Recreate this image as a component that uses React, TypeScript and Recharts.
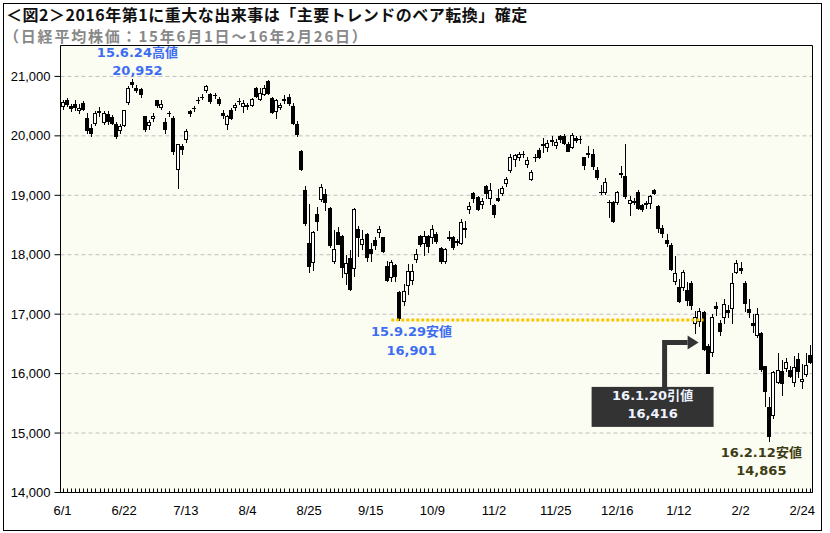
import { ComposedChart, Bar, XAxis, YAxis, CartesianGrid, ReferenceLine, ReferenceArea, ReferenceDot } from 'recharts';

// 日経平均 日足 2015/6/1 ~ 2016/2/26
const dates = [
  '6/1','6/2','6/3','6/4','6/5','6/8','6/9','6/10','6/11','6/12','6/15','6/16','6/17','6/18','6/19','6/22','6/23','6/24','6/25','6/26','6/29','6/30',
  '7/1','7/2','7/3','7/6','7/7','7/8','7/9','7/10','7/13','7/14','7/15','7/16','7/17','7/21','7/22','7/23','7/24','7/27','7/28','7/29','7/30','7/31',
  '8/3','8/4','8/5','8/6','8/7','8/10','8/11','8/12','8/13','8/14','8/17','8/18','8/19','8/20','8/21','8/24','8/25','8/26','8/27','8/28','8/31',
  '9/1','9/2','9/3','9/4','9/7','9/8','9/9','9/10','9/11','9/14','9/15','9/16','9/17','9/18','9/24','9/25','9/28','9/29','9/30',
  '10/1','10/2','10/5','10/6','10/7','10/8','10/9','10/13','10/14','10/15','10/16','10/19','10/20','10/21','10/22','10/23','10/26','10/27','10/28','10/29','10/30',
  '11/2','11/4','11/5','11/6','11/9','11/10','11/11','11/12','11/13','11/16','11/17','11/18','11/19','11/20','11/24','11/25','11/26','11/27','11/30',
  '12/1','12/2','12/3','12/4','12/7','12/8','12/9','12/10','12/11','12/14','12/15','12/16','12/17','12/18','12/21','12/22','12/24','12/25','12/28','12/29','12/30',
  '1/4','1/5','1/6','1/7','1/8','1/12','1/13','1/14','1/15','1/18','1/19','1/20','1/21','1/22','1/25','1/26','1/27','1/28','1/29',
  '2/1','2/2','2/3','2/4','2/5','2/8','2/9','2/10','2/12','2/15','2/16','2/17','2/18','2/19','2/22','2/23','2/24','2/25','2/26',
];

const opens = [
  20500,20600,20500,20540,20430,20550,20300,20140,20210,20420,
  20240,20370,20320,20200,20100,20190,20570,20900,20800,20790,
  20330,20180,20300,20600,20480,20230,20380,20300,19440,19830,
  19945,20420,20470,20610,20660,20770,20700,20690,20620,20390,
  20200,20440,20480,20590,20510,20500,20515,20800,20620,20700,
  20930,20640,20410,20490,20600,20660,20500,20200,19740,19090,
  18200,17880,18690,18930,19025,18780,17890,18375,18320,17700,
  17950,17770,18430,18180,18350,18100,18250,18375,18290,17810,
  17630,17830,17380,17215,17490,17570,17925,18320,18190,18320,
  18290,18345,18110,17900,18280,18300,18230,18195,18450,18765,
  19045,18965,18855,19160,18950,18840,18960,19045,19210,19430,
  19610,19640,19690,19520,19270,19640,19770,19840,19820,19910,
  19845,20000,20000,19870,19820,19960,19950,19640,19710,19700,
  19420,19060,19050,18890,18895,18880,19380,19330,18870,18900,
  19050,18830,18860,18865,19090,18820,18450,18250,18165,17560,
  17460,17460,17400,17530,16850,16880,17040,16460,16360,17130,
  16850,16950,17070,17100,17710,17780,17520,17080,16850,16650,
  16680,16120,15440,15300,15865,16050,16100,16055,15860,16240,
  15870,15990,16315,
];

const highs = [
  20600,20640,20530,20600,20530,20580,20380,20200,20420,20480,
  20420,20420,20350,20240,20200,20440,20840,20952,20850,20800,
  20340,20260,20380,20610,20600,20300,20420,20340,19870,19870,
  20110,20440,20500,20650,20700,20860,20720,20720,20650,20440,
  20350,20470,20560,20640,20600,20560,20640,20830,20810,20850,
  20946,20660,20620,20560,20680,20700,20560,20250,19760,19150,
  18850,18400,18800,19190,19100,18800,18415,18460,18330,18000,
  18080,18790,18480,18420,18370,18200,18300,18480,18300,17900,
  17910,17850,17390,17500,17850,17850,18100,18330,18400,18340,
  18500,18380,18130,18120,18400,18320,18260,18600,18560,18880,
  19060,18980,18950,19170,19200,18860,19100,19150,19300,19700,
  19700,19720,19740,19640,19420,19700,19790,19960,19930,19990,
  19950,20010,20030,19900,20040,20000,19990,19650,19830,19780,
  19470,19170,19290,18920,18910,19080,19500,19869,18990,18960,
  19090,18850,18910,19000,19110,18840,18500,18350,18200,17975,
  17600,17740,17545,17560,17060,17100,17060,16500,17000,17200,
  16900,17250,17150,17700,17905,17880,17560,17250,17000,17100,
  16700,16130,15610,16050,16350,16230,16260,16120,16290,16340,
  16170,16340,16485,
];

const lows = [
  20450,20500,20420,20440,20380,20440,20050,20000,20180,20330,
  20200,20200,20200,19970,20050,20170,20540,20820,20740,20660,
  20090,20120,20250,20480,20450,20050,20330,19700,19115,19700,
  19900,20330,20420,20560,20620,20740,20560,20640,20520,20300,
  20110,20290,20440,20540,20400,20450,20500,20660,20600,20680,
  20700,20380,20300,20450,20560,20520,20200,20000,19430,18500,
  17714,17740,18420,18900,18760,18130,17860,18180,17630,17500,
  17415,17650,17975,18100,17900,17890,18100,18300,18040,17560,
  17560,17560,16901,17160,17340,17500,17880,18150,18000,18050,
  18200,18200,17860,17860,18240,18100,18170,18180,18300,18700,
  18890,18750,18790,18950,18850,18640,18900,19000,19150,19400,
  19500,19590,19640,19480,19250,19580,19620,19720,19750,19850,
  19800,19900,19860,19740,19800,19900,19880,19450,19650,19440,
  19270,19020,19030,18640,18550,18850,19300,18950,18670,18850,
  18770,18740,18780,18780,19030,18390,18300,18150,17750,17510,
  17200,17400,17160,17080,16680,16800,16390,16010,16300,16990,
  16650,16850,16950,16850,17700,17700,17050,16950,16700,16610,
  16050,15450,14865,15250,15850,15640,16050,15940,15800,15950,
  15760,15960,16180,
];

const closes = [
  20570,20543,20473,20488,20461,20457,20096,20046,20383,20407,
  20388,20258,20219,19991,20174,20428,20809,20868,20771,20706,
  20110,20236,20329,20523,20540,20112,20377,19738,19856,19780,
  20090,20385,20463,20600,20651,20842,20594,20684,20545,20350,
  20329,20303,20523,20585,20548,20520,20614,20664,20725,20809,
  20721,20393,20596,20520,20620,20554,20223,20034,19436,18541,
  17807,18377,18574,19136,18890,18166,18095,18182,17792,17860,
  17427,18771,18300,18264,17966,18026,18172,18432,18070,17572,
  17880,17645,16931,17388,17722,17725,18005,18186,18323,18141,
  18438,18235,17891,18097,18292,18131,18207,18554,18436,18825,
  18947,18777,18903,19042,19083,18683,18927,19117,19266,19643,
  19671,19698,19698,19597,19394,19649,19650,19860,19880,19925,
  19890,19944,19884,19747,20012,19938,19940,19504,19698,19492,
  19301,19047,19230,18883,18566,19050,19354,18987,18916,18887,
  18790,18769,18873,18982,19034,18451,18374,18191,17767,17698,
  17219,17716,17241,17147,16956,17048,16416,16017,16958,17111,
  16709,17164,17041,17518,17865,17751,17191,17045,16820,17004,
  16085,15713,14953,16023,16054,15836,16197,15967,16111,16052,
  15916,16140,16188,
];

const tickDates = ['6/1','6/22','7/13','8/4','8/25','9/15','10/9','11/2','11/25','12/16','1/12','2/2','2/24'];
const yTicks = [14000, 15000, 16000, 17000, 18000, 19000, 20000, 21000];

const data = dates.map((date, i) => ({
  date,
  open: opens[i],
  high: highs[i],
  low: lows[i],
  close: closes[i],
  range: [lows[i], highs[i]],
}));

const LABEL_FONT = '"DejaVu Sans", "Noto Sans CJK JP", sans-serif';
const AXIS_FONT = '"Liberation Sans", Arial, sans-serif';
const BLUE = '#3d6df2';

function Candle(props: any) {
  const { x, y, width, height, payload } = props;
  if (x == null || y == null) return null;
  const top = Math.min(y, y + height);
  const h = Math.abs(height);
  const { open, close, high, low } = payload;
  const py = (v: number) => (high === low ? top : top + ((high - v) / (high - low)) * h);
  const x0 = Math.round(x);
  const x1 = Math.round(x + width);
  const cx = Math.floor((x0 + x1) / 2) + 0.5;
  const up = close >= open;
  const bTop = Math.round(py(Math.max(open, close))) + 0.5;
  const bBot = Math.round(py(Math.min(open, close))) + 0.5;
  return (
    <g>
      <line x1={cx} x2={cx} y1={Math.round(top)} y2={Math.round(top + h) + 1} stroke="#000" strokeWidth={1} />
      {bBot - bTop < 1 ? (
        <line x1={x0} x2={x1} y1={bTop} y2={bTop} stroke="#000" strokeWidth={1} />
      ) : (
        <rect x={x0 + 0.5} y={bTop} width={x1 - x0 - 1} height={bBot - bTop} fill={up ? '#fff' : '#000'} stroke="#000" strokeWidth={1} />
      )}
    </g>
  );
}

function XTick(props: any) {
  const { x, y, payload } = props;
  const lx = Math.round(x) + 0.5;
  const show = tickDates.includes(payload.value);
  return (
    <g>
      <line x1={lx} x2={lx} y1={y} y2={y - 4} stroke="#000" strokeWidth={1} />
      {show && (
        <text x={x} y={y + 22} textAnchor="middle" fontSize={13} fontFamily={AXIS_FONT} fill="#000">
          {payload.value}
        </text>
      )}
    </g>
  );
}

// ラベル（2行）
function twoLines(cx: number, y1: number, y2: number, a: string, b: string, color: string) {
  return (
    <g>
      <text x={cx} y={y1} textAnchor="middle" fontSize={13} fontWeight="bold" fontFamily={LABEL_FONT} fill={color}>{a}</text>
      <text x={cx} y={y2} textAnchor="middle" fontSize={13} fontWeight="bold" fontFamily={LABEL_FONT} fill={color}>{b}</text>
    </g>
  );
}

function HighMark(p: any) {
  return twoLines(p.cx + 5, p.cy - 22, p.cy - 4, '15.6.24高値', '20,952', BLUE);
}

function LowMark(p: any) {
  return twoLines(p.cx + 12, p.cy + 16, p.cy + 35, '15.9.29安値', '16,901', BLUE);
}

function FebLowMark(p: any) {
  return twoLines(p.cx - 8, p.cy + 16, p.cy + 34, '16.2.12安値', '14,865', '#3c3c14');
}

function CloseMark(p: any) {
  const { cx, cy } = p;
  const ay = cy - 6.5;
  const sx = cx - 39;
  return (
    <g>
      <polyline points={`${sx},${cy + 40} ${sx},${ay} ${cx - 16},${ay}`} fill="none" stroke="#333" strokeWidth={5} strokeLinejoin="miter" />
      <polygon points={`${cx - 16},${ay - 7} ${cx - 5},${ay} ${cx - 16},${ay + 7}`} fill="#333" />
      <rect x={cx - 112} y={cy + 38} width={122} height={40} fill="#333" />
      {twoLines(cx - 51, cy + 51, cy + 69, '16.1.20引値', '16,416', '#eef3ff')}
    </g>
  );
}

export default function App() {
  return (
    <div style={{ position: 'absolute', left: 0, top: 0, width: 830, height: 533, background: '#fff' }}>
      <div style={{ position: 'absolute', left: 3, top: 3, width: 819, height: 528, border: '1px solid #000', boxSizing: 'border-box' }} />
      <div style={{ position: 'absolute', left: 6, top: 5.5, fontSize: 16, lineHeight: '17px', fontWeight: 'bold', letterSpacing: 0.5, fontFamily: '"Noto Sans CJK JP", sans-serif', color: '#111', whiteSpace: 'nowrap' }}>
        ＜図2＞2016年第1に重大な出来事は「主要トレンドのベア転換」確定
      </div>
      <div style={{ position: 'absolute', left: 4, top: 28, fontSize: 15, lineHeight: '16px', fontWeight: 'bold', letterSpacing: 1.8, fontFamily: '"Noto Sans CJK JP", sans-serif', color: '#888', whiteSpace: 'nowrap' }}>
        （日経平均株価：15年6月1日～16年2月26日）
      </div>
      <div style={{ position: 'absolute', left: 0, top: 0 }}>
        <ComposedChart
          width={830}
          height={533}
          data={data}
          margin={{ top: 45.5, right: 17.5, bottom: 10.5, left: 0.5 }}
          barCategoryGap={0}
          barGap={0}
        >
          <CartesianGrid vertical={false} stroke="#bdbdbd" strokeDasharray="4 3" fill="#fcfdf2" />
          <XAxis
            dataKey="date"
            interval={0}
            tickSize={0}
            tickMargin={0}
            height={30}
            tick={<XTick />}
            axisLine={{ stroke: '#000' }}
            tickLine={false}
          />
          <YAxis
            type="number"
            domain={[14000, 21520]}
            ticks={yTicks}
            allowDataOverflow
            width={60}
            tickSize={6}
            tickMargin={4}
            tickFormatter={(v: number) => v.toLocaleString('en-US')}
            tick={{ fontSize: 13, fill: '#000', fontFamily: AXIS_FONT }}
            axisLine={{ stroke: '#000' }}
            tickLine={{ stroke: '#000' }}
          />
          <ReferenceArea y1={14000} y2={21520} fill="none" stroke="#000" strokeWidth={1} ifOverflow="visible" />
          <ReferenceLine
            segment={[{ x: '9/25', y: 16901 }, { x: '1/20', y: 16901 }]}
            stroke="#f7c600"
            strokeWidth={3}
            strokeDasharray="3 2"
          />
          <Bar dataKey="range" shape={<Candle />} isAnimationActive={false} />
          <ReferenceDot x="6/24" y={20952} r={0} shape={HighMark} />
          <ReferenceDot x="9/29" y={16901} r={0} shape={LowMark} />
          <ReferenceDot x="2/12" y={14865} r={0} shape={FebLowMark} />
          <ReferenceDot x="1/20" y={16416} r={0} shape={CloseMark} />
        </ComposedChart>
      </div>
    </div>
  );
}
